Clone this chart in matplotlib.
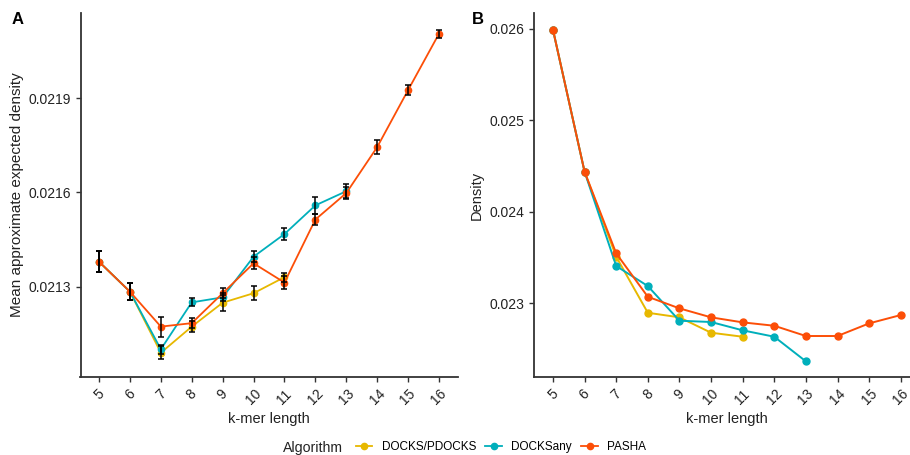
import numpy as np
import matplotlib
matplotlib.use("Agg")
import matplotlib.pyplot as plt
from matplotlib.lines import Line2D

plt.rcParams['font.family'] = ['Liberation Sans', 'DejaVu Sans']

# colours
c_docks = '#E7B800'
c_any = '#00AFBB'
c_pasha = '#FC4E07'

# panel A: mean approximate expected density (+/- error)
k_docks_a = [5, 6, 7, 8, 9, 10, 11]
docks_a = [0.021380, 0.021285, 0.021091, 0.021174, 0.021250, 0.021280, 0.021331]
docks_a_err = [3.4e-5, 2.6e-5, 2.0e-5, 1.8e-5, 2.5e-5, 2.2e-5, 1.4e-5]

k_any_a = [5, 6, 7, 8, 9, 10, 11, 12, 13]
any_a = [0.021380, 0.021285, 0.021102, 0.021251, 0.021267, 0.021396, 0.021468, 0.021559, 0.021604]
any_a_err = [3.4e-5, 2.6e-5, 1.4e-5, 1.3e-5, 1.3e-5, 1.7e-5, 1.8e-5, 2.7e-5, 2.3e-5]

k_pasha_a = [5, 6, 7, 8, 9, 10, 11, 12, 13, 14, 15, 16]
pasha_a = [0.021380, 0.021285, 0.021174, 0.021185, 0.021280, 0.021375, 0.021314,
           0.021514, 0.021598, 0.021744, 0.021925, 0.022104]
pasha_a_err = [3.4e-5, 2.6e-5, 3.2e-5, 1.6e-5, 1.6e-5, 1.9e-5, 2.1e-5,
               1.8e-5, 1.8e-5, 2.2e-5, 1.6e-5, 1.2e-5]

# panel B: density
k_docks_b = [5, 6, 7, 8, 9, 10, 11]
docks_b = [0.02599, 0.024438, 0.023509, 0.022897, 0.022847, 0.022679, 0.022635]

k_any_b = [5, 6, 7, 8, 9, 10, 11, 12, 13]
any_b = [0.02599, 0.024438, 0.023408, 0.023189, 0.022810, 0.022796, 0.022705, 0.022635, 0.022366]

k_pasha_b = [5, 6, 7, 8, 9, 10, 11, 12, 13, 14, 15, 16]
pasha_b = [0.02599, 0.024438, 0.023546, 0.023072, 0.022945, 0.022847, 0.022792,
           0.022755, 0.022643, 0.022643, 0.022781, 0.022872]

kmers = list(range(5, 17))
yticks_a = [0.0213, 0.0216, 0.0219]
yticks_b = [0.023, 0.024, 0.025, 0.026]

W, H = 910, 455
fig = plt.figure(figsize=(W / 100, H / 100), dpi=100)


def px_axes(x0, y0, x1, y1):
    return fig.add_axes([x0 / W, 1 - y1 / H, (x1 - x0) / W, (y1 - y0) / H])


def style(ax):
    for s in ['top', 'right']:
        ax.spines[s].set_visible(False)
    for s in ['left', 'bottom']:
        ax.spines[s].set_linewidth(1.3)
        ax.spines[s].set_color('#333333')
    ax.tick_params(axis='both', length=3.5, width=1, color='#333333',
                   labelsize=10, labelcolor='#222222')
    ax.set_xticks(kmers)
    ax.set_xticklabels([str(k) for k in kmers], rotation=45, ha='center', va='top')
    ax.set_xlim(4.4, 16.6)
    ax.set_xlabel('k-mer length', fontsize=10.5, color='#222222', labelpad=3)


# panel A
ax1 = px_axes(80.5, 13, 457.5, 377)
for k, v, e, c in [(k_docks_a, docks_a, docks_a_err, c_docks),
                   (k_any_a, any_a, any_a_err, c_any),
                   (k_pasha_a, pasha_a, pasha_a_err, c_pasha)]:
    ax1.plot(k, v, color=c, lw=1.3, marker='o', ms=4.5, zorder=2)
    ax1.errorbar(k, v, yerr=e, fmt='none', ecolor='black', elinewidth=1.1,
                 capsize=2.5, capthick=1.1, zorder=3)
style(ax1)
ax1.set_ylim(0.021014, 0.02217)
ax1.set_yticks(yticks_a)
ax1.set_yticklabels(['0.0213', '0.0216', '0.0219'])
ax1.set_ylabel('Mean approximate expected density', fontsize=11, color='#222222', labelpad=3)

# panel B
ax2 = px_axes(534, 13, 919.7, 377)
for k, v, c in [(k_docks_b, docks_b, c_docks),
                (k_any_b, any_b, c_any),
                (k_pasha_b, pasha_b, c_pasha)]:
    ax2.plot(k, v, color=c, lw=1.4, marker='o', ms=5, zorder=2)
style(ax2)
ax2.set_ylim(0.022195, 0.026173)
ax2.set_yticks(yticks_b)
ax2.set_yticklabels(['0.023', '0.024', '0.025', '0.026'])
ax2.set_ylabel('Density', fontsize=10.5, color='#222222', labelpad=4)

fig.text(18 / W, 1 - 20 / H, 'A', fontsize=12, fontweight='bold', va='center', ha='center')
fig.text(478 / W, 1 - 20 / H, 'B', fontsize=12, fontweight='bold', va='center', ha='center')

# legend
handles = [Line2D([], [], color=c, lw=1.3, marker='o', ms=4.5)
           for c in [c_docks, c_any, c_pasha]]
labels = ['DOCKS/PDOCKS', 'DOCKSany', 'PASHA']
fig.text(313 / W, 1 - 448 / H, 'Algorithm', fontsize=10.2, ha='center', va='center', color='#222222')
fig.legend(handles, labels, loc='center', bbox_to_anchor=(501 / W, 1 - 447 / H),
           ncol=3, frameon=False, fontsize=8.5, handlelength=1.4,
           handletextpad=0.8, columnspacing=0.8, borderpad=0, borderaxespad=0)

fig.savefig('out.png', dpi=100)
